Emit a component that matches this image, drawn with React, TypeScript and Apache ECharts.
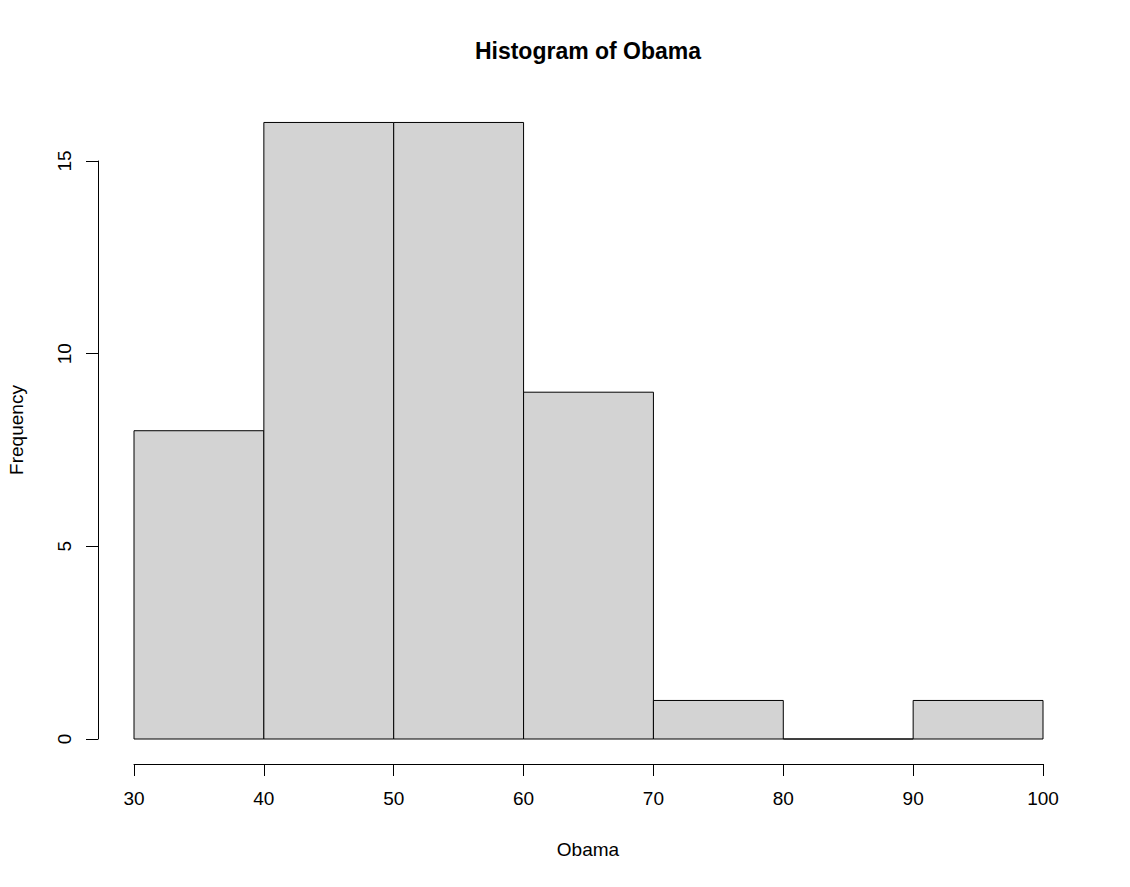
import React, { useEffect, useRef } from "react";
import * as echarts from "echarts";

const binStarts = [30, 40, 50, 60, 70, 80, 90];
const binEnds = [40, 50, 60, 70, 80, 90, 100];
const counts = [8, 16, 16, 9, 1, 0, 1];
const xTicks = [30, 40, 50, 60, 70, 80, 90, 100];
const yTicks = [0, 5, 10, 15];
const titleText = "Histogram of Obama";
const xName = "Obama";
const yName = "Frequency";

const FONT = "Liberation Sans, Arial, sans-serif";

export default function App() {
  const ref = useRef<HTMLDivElement>(null);
  useEffect(() => {
    const chart = echarts.init(ref.current!, null, { renderer: "svg" });
    const data = binStarts.map((s, i) => [s, binEnds[i], counts[i]]);
    chart.setOption({
      animation: false,
      backgroundColor: "#ffffff",
      grid: { left: 134, right: 87, top: 161, bottom: 148, containLabel: false },
      xAxis: {
        type: "value",
        min: xTicks[0],
        max: xTicks[xTicks.length - 1],
        interval: 10,
        offset: 25,
        axisLine: { show: true, onZero: false, lineStyle: { color: "#000", width: 1 } },
        axisTick: { show: true, length: 12, inside: false, lineStyle: { color: "#000", width: 1 } },
        axisLabel: { show: true, margin: 25, color: "#000", fontSize: 19, fontFamily: FONT },
        splitLine: { show: false },
      },
      yAxis: {
        type: "value",
        min: yTicks[0],
        max: yTicks[yTicks.length - 1],
        interval: 5,
        offset: 36,
        axisLine: { show: true, onZero: false, lineStyle: { color: "#000", width: 1 } },
        axisTick: { show: true, length: 12, inside: false, lineStyle: { color: "#000", width: 1 } },
        axisLabel: { show: true, margin: 24, rotate: 90, color: "#000", fontSize: 19, fontFamily: FONT },
        splitLine: { show: false },
      },
      graphic: [
        {
          type: "text",
          x: 588,
          y: 51,
          style: {
            text: titleText,
            fill: "#000",
            font: `bold 23px ${FONT}`,
            textAlign: "center",
            textVerticalAlign: "middle",
          },
        },
        {
          type: "text",
          x: 588,
          y: 849,
          style: {
            text: xName,
            fill: "#000",
            font: `19px ${FONT}`,
            textAlign: "center",
            textVerticalAlign: "middle",
          },
        },
        {
          type: "text",
          x: 16,
          y: 430,
          rotation: Math.PI / 2,
          style: {
            text: yName,
            fill: "#000",
            font: `19px ${FONT}`,
            textAlign: "center",
            textVerticalAlign: "middle",
          },
        },
      ],
      series: [
        {
          type: "custom",
          clip: false,
          data,
          encode: { x: [0, 1], y: 2 },
          renderItem: (params: any, api: any) => {
            const p0 = api.coord([api.value(0), api.value(2)]);
            const p1 = api.coord([api.value(1), 0]);
            return {
              type: "rect",
              shape: { x: p0[0], y: p0[1], width: p1[0] - p0[0], height: p1[1] - p0[1] },
              style: { fill: "#D3D3D3", stroke: "#000", lineWidth: 1 },
            };
          },
        },
      ],
    });
    return () => chart.dispose();
  }, []);
  return (
    <div
      ref={ref}
      style={{ position: "absolute", left: 0, top: 0, width: 1130, height: 887 }}
    />
  );
}
